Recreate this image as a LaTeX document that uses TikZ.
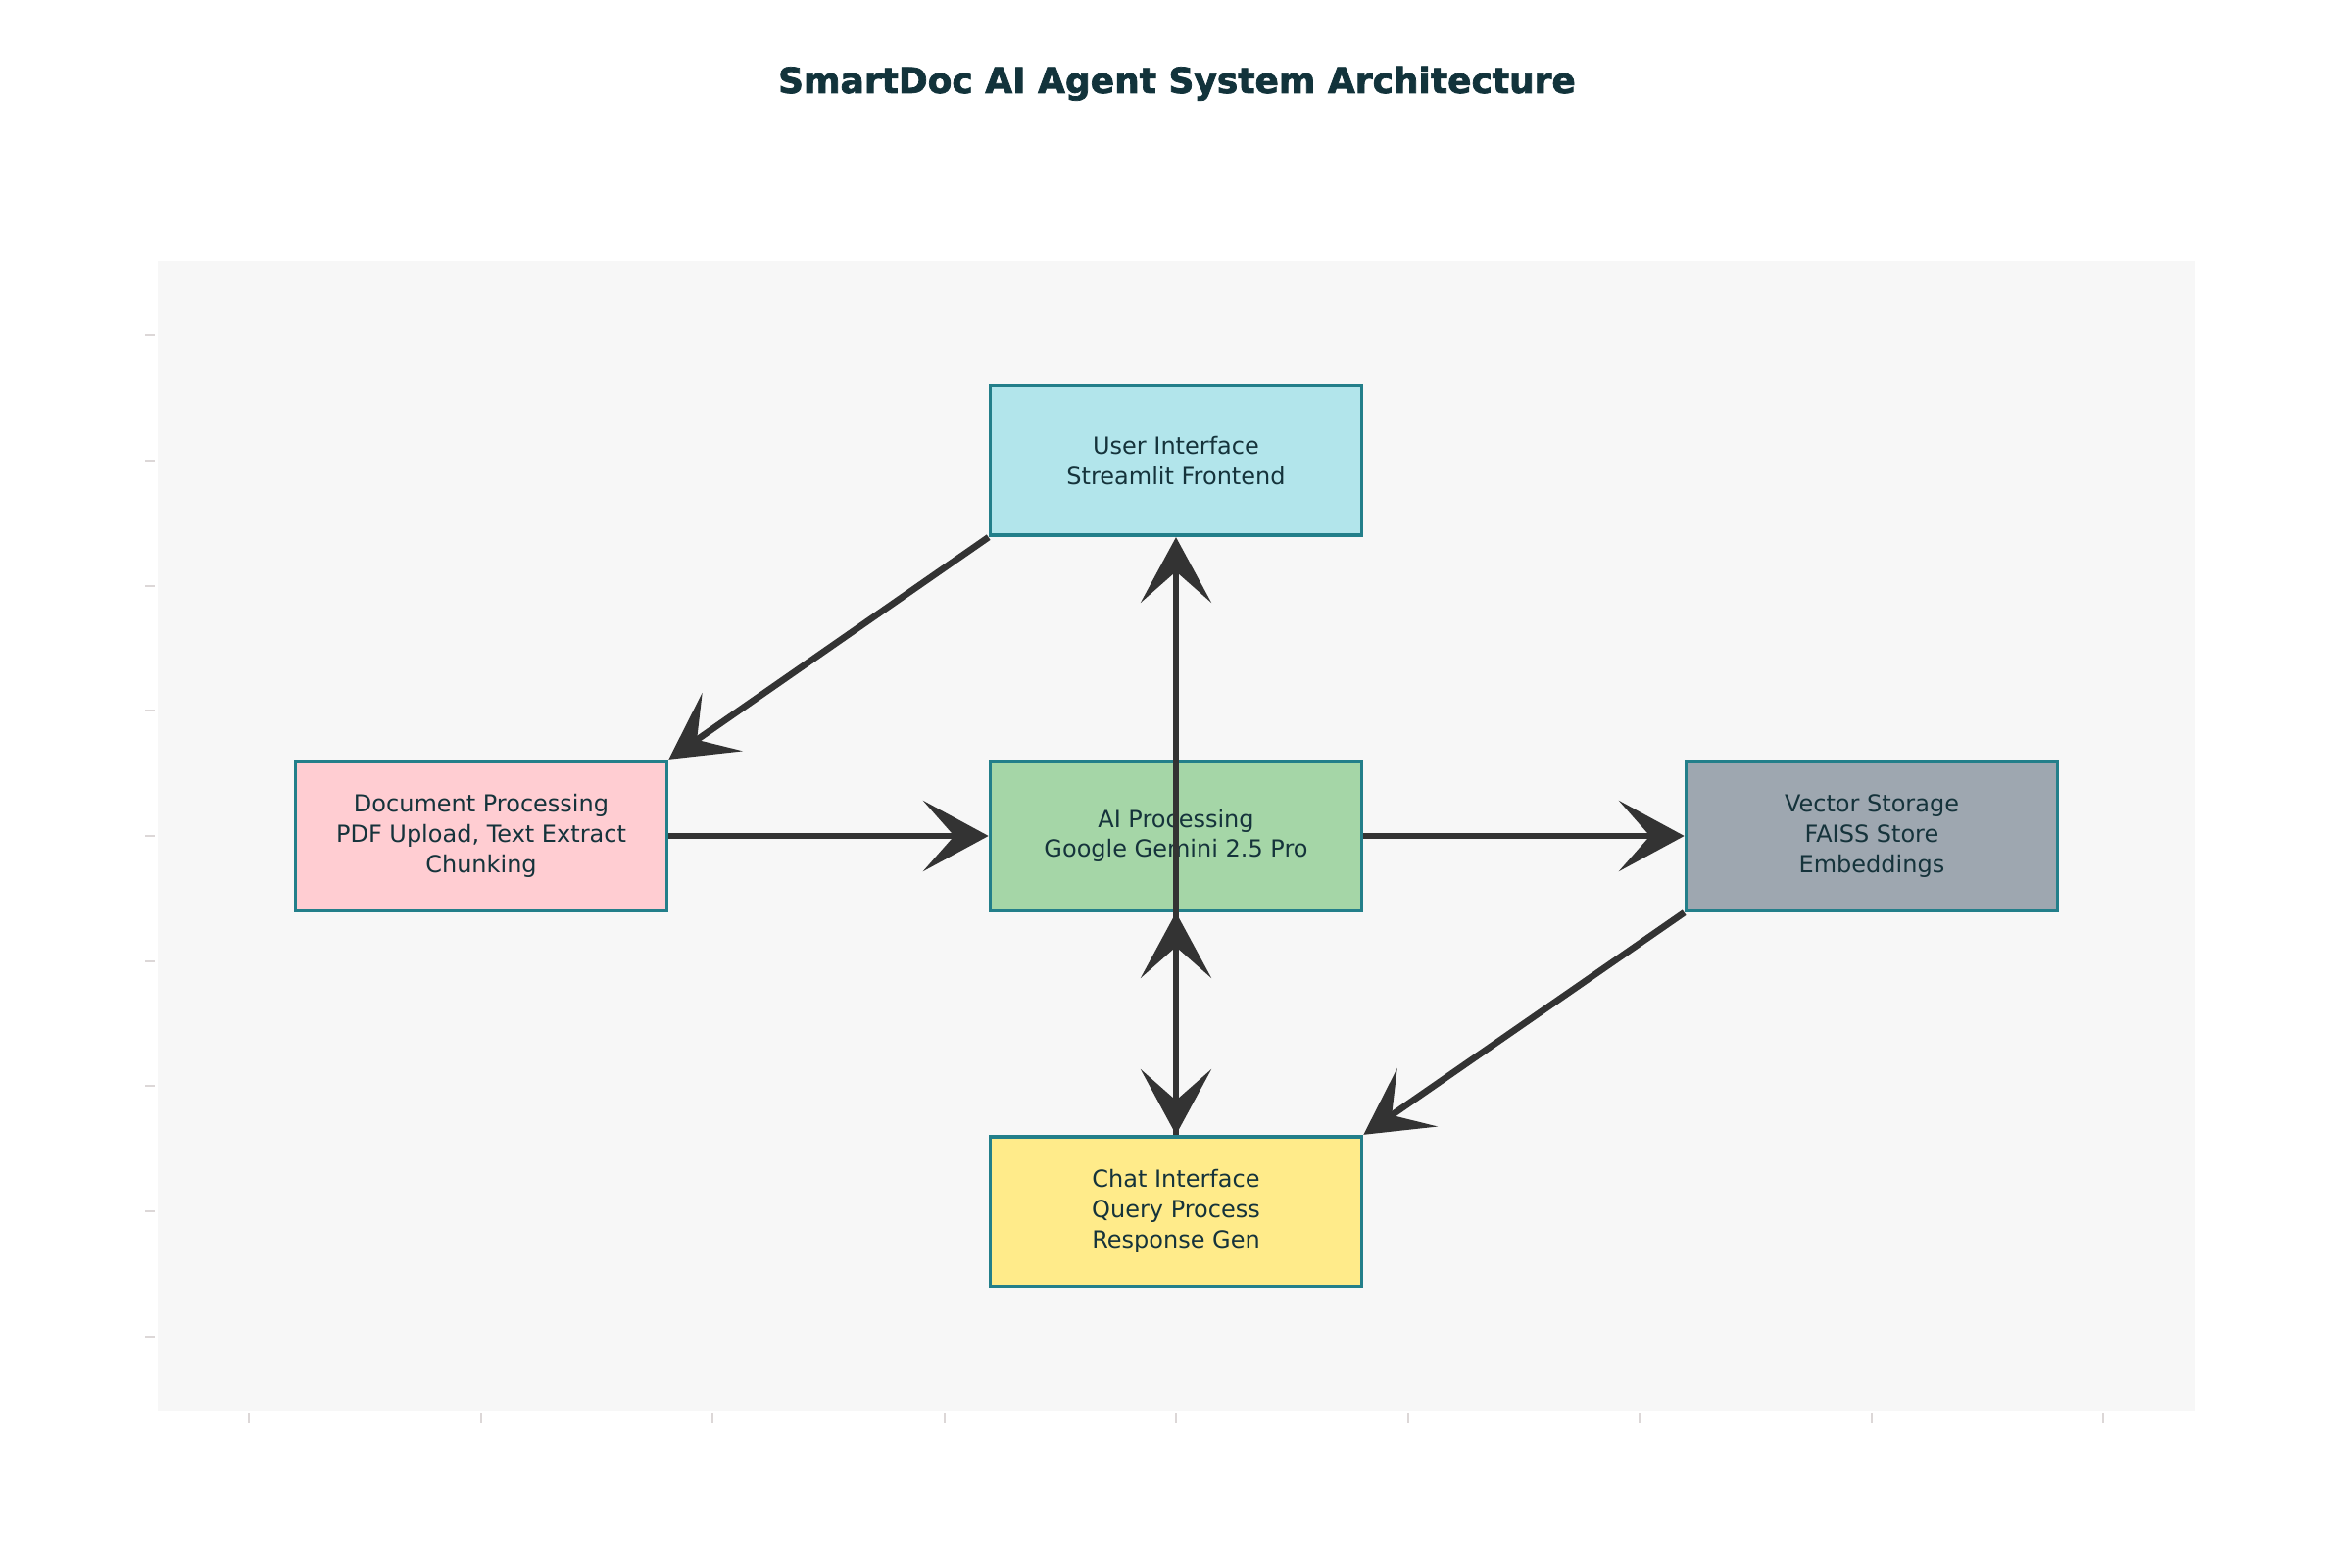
\documentclass[tikz,border=0pt]{standalone}
\usepackage{fontspec}
\setmainfont{DejaVu Sans}
\newfontfamily\titlefont{DejaVu Sans Bold}[FakeBold=2]
\usetikzlibrary{arrows.meta}
\definecolor{plotbg}{HTML}{F7F7F7}
\definecolor{tickc}{HTML}{DCD7D7}
\definecolor{bordc}{HTML}{237F8A}
\definecolor{txtc}{HTML}{15333B}
\definecolor{titlec}{HTML}{12333B}
\definecolor{arrc}{HTML}{333333}
\definecolor{uic}{HTML}{B2E5EB}
\definecolor{docc}{HTML}{FFCDD2}
\definecolor{aic}{HTML}{A5D6A7}
\definecolor{vecc}{HTML}{9EA7B0}
\definecolor{chatc}{HTML}{FFEB8A}
\begin{document}
\begin{tikzpicture}[x=0.3pt,y=-0.3pt,
  box/.style={draw=bordc, line width=1.1pt, minimum width=113.7pt, minimum height=45.8pt,
    inner sep=0pt, align=center, text=txtc, font=\fontsize{7.2}{9.2}\selectfont},
  conn/.style={draw=arrc, line width=2pt, -{Stealth[length=20pt,width=21.6pt,inset=9.5pt]}},
  bconn/.style={draw=arrc, line width=2pt, {Stealth[length=20pt,width=21.6pt,inset=9.5pt]}-{Stealth[length=20pt,width=21.6pt,inset=9.5pt]}},
  tickline/.style={draw=tickc, line width=0.6pt}]
\useasboundingbox (0,0) rectangle (2400,1600);
\fill[white] (0,0) rectangle (2400,1600);
\fill[plotbg] (161,266) rectangle (2240,1440);
\foreach \k in {0,...,8} {
  \draw[tickline] (148,{342.2+\k*127.67}) -- (158,{342.2+\k*127.67});
  \draw[tickline] ({254+\k*236.5},1442) -- ({254+\k*236.5},1452);
}
\node[font=\titlefont\fontsize{10.8}{12}\selectfont, text=titlec, anchor=base] (title) at (1201,95) {SmartDoc AI Agent System Architecture};
\node[box, fill=uic] (ui) at (1200,470) {User Interface\\Streamlit Frontend};
\node[box, fill=docc] (doc) at (491,853) {Document Processing\\PDF Upload, Text Extract\\Chunking};
\node[box, fill=aic] (ai) at (1200,853) {AI Processing\\Google Gemini 2.5 Pro};
\node[box, fill=vecc] (vec) at (1910,853) {Vector Storage\\FAISS Store\\Embeddings};
\node[box, fill=chatc] (chat) at (1200,1236) {Chat Interface\\Query Process\\Response Gen};
\draw[conn] (ui.south west) -- (doc.north east);
\draw[conn] (doc.east) -- (ai.west);
\draw[conn] (ai.east) -- (vec.west);
\draw[conn] (vec.south west) -- (chat.north east);
\draw[conn] (chat.north) -- (ui.south);
\draw[bconn] (ai.south) -- (chat.north);
\end{tikzpicture}
\end{document}
